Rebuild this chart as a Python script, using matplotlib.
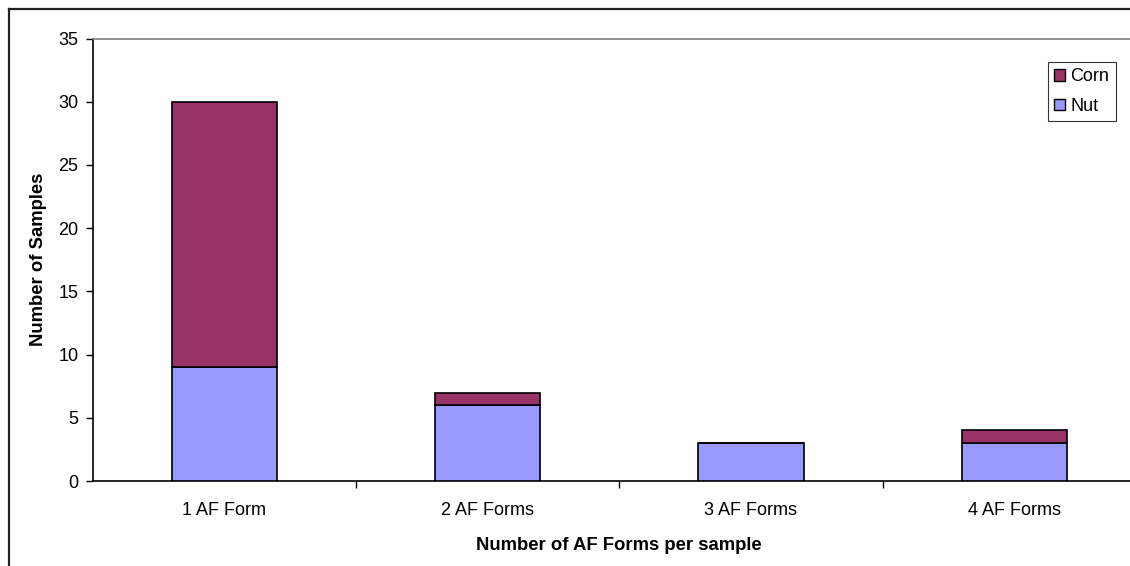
import matplotlib
matplotlib.use("Agg")
import matplotlib.pyplot as plt
from matplotlib.patches import Patch
from matplotlib.lines import Line2D
import numpy as np

categories = ["1 AF Form", "2 AF Forms", "3 AF Forms", "4 AF Forms"]
nut = [9, 6, 3, 3]
corn = [21, 1, 0, 1]
y_ticks = [0, 5, 10, 15, 20, 25, 30, 35]

nut_color = "#9999FF"
corn_color = "#993366"

plt.rcParams["font.family"] = ["Liberation Sans", "DejaVu Sans"]

W, H = 1130, 566
fig = plt.figure(figsize=(W / 100, H / 100), dpi=100)

# plot area (extends slightly past the right edge of the canvas)
left, right, top, bottom = 92.5, 1146, 38.5, 481
ax = fig.add_axes([left / W, 1 - bottom / H, (right - left) / W, (bottom - top) / H])

x = np.arange(len(categories))
width = 0.4
ax.bar(x, nut, width, color=nut_color, edgecolor="black", linewidth=1.2, label="Nut", zorder=3)
ax.bar(x, corn, width, bottom=nut, color=corn_color, edgecolor="black", linewidth=1.2,
       label="Corn", zorder=3)

ax.set_xlim(-0.5, len(categories) - 0.5)
ax.set_ylim(0, 35)
ax.set_yticks(y_ticks)
ax.set_yticklabels([str(v) for v in y_ticks], fontsize=13)
ax.set_xticks(x)
ax.set_xticklabels(categories, fontsize=13)
ax.tick_params(axis="x", which="major", length=0, pad=15)
ax.set_xticks(np.arange(0.5, len(categories) - 0.5, 1.0), minor=True)
ax.tick_params(axis="x", which="minor", length=5, width=1, direction="out")
ax.tick_params(axis="y", length=5, width=1, direction="out", pad=5)

for s in ("left", "bottom"):
    ax.spines[s].set_color("black")
    ax.spines[s].set_linewidth(1.2)
ax.spines["top"].set_color("#808080")
ax.spines["top"].set_linewidth(1.2)
ax.spines["right"].set_visible(False)

ax.set_xlabel("Number of AF Forms per sample", fontsize=13.3, fontweight="bold", labelpad=13)
ax.set_ylabel("Number of Samples", fontsize=13.3, fontweight="bold", labelpad=8)

handles = [Patch(facecolor=corn_color, edgecolor="black", linewidth=1),
           Patch(facecolor=nut_color, edgecolor="black", linewidth=1)]
leg = fig.legend(handles, ["Corn", "Nut"], loc="upper left",
                 bbox_to_anchor=(1048 / W, 1 - 62 / H), borderaxespad=0,
                 fontsize=13, frameon=True, fancybox=False,
                 handlelength=0.6, handleheight=0.6, handletextpad=0.3,
                 borderpad=0.35, labelspacing=0.7)
leg.get_frame().set_edgecolor("black")
leg.get_frame().set_linewidth(0.8)

# outer chart frame (only the top and left edges fall on the canvas)
fig.add_artist(Line2D([8.5 / W, 8.5 / W], [0, 1 - 9 / H], transform=fig.transFigure,
                      color="#222222", linewidth=1.6))
fig.add_artist(Line2D([8.5 / W, 1], [1 - 9 / H, 1 - 9 / H], transform=fig.transFigure,
                      color="#222222", linewidth=1.6))

fig.savefig("out.png", dpi=100)
